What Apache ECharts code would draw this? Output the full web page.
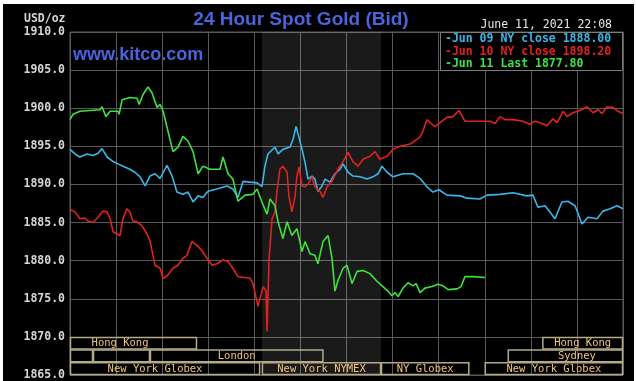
<!DOCTYPE html>
<html><head><meta charset="utf-8">
<script src="https://cdn.jsdelivr.net/npm/echarts@6/dist/echarts.min.js"></script>
<style>html,body{margin:0;padding:0;background:#fff;width:636px;height:381px;overflow:hidden}
#c{position:absolute;left:3px;top:4px;width:631px;height:377px;background:#000}</style>
</head><body><div id="c"></div><script>
// time in hours (EST, 0..24), value in USD/oz
const jun09 = [[0,1894.6],[0.22,1894.0],[0.43,1893.6],[0.74,1894.0],[1.00,1893.8],[1.22,1894.1],[1.39,1894.7],[1.61,1893.6],[1.87,1893.0],[2.08,1892.7],[2.30,1892.4],[2.60,1892.0],[2.82,1891.6],[3.04,1891.0],[3.26,1889.8],[3.47,1891.1],[3.69,1891.4],[3.91,1890.8],[4.21,1892.5],[4.43,1891.1],[4.64,1889.0],[4.90,1888.7],[5.12,1889.0],[5.34,1887.7],[5.56,1888.5],[5.77,1888.3],[5.99,1889.1],[6.38,1889.4],[6.81,1889.8],[7.07,1889.4],[7.29,1888.3],[7.51,1890.4],[7.81,1890.3],[8.12,1890.2],[8.33,1889.7],[8.46,1892.4],[8.59,1894.0],[8.90,1894.9],[9.03,1894.0],[9.24,1894.6],[9.55,1894.9],[9.68,1895.9],[9.81,1897.6],[9.90,1896.6],[10.07,1894.6],[10.20,1892.9],[10.33,1890.7],[10.50,1891.1],[10.63,1890.7],[10.76,1889.1],[10.94,1889.8],[11.07,1890.7],[11.28,1890.3],[11.50,1891.4],[11.72,1892.0],[11.85,1892.7],[12.07,1891.6],[12.28,1891.1],[12.59,1891.0],[12.89,1890.7],[13.15,1891.0],[13.37,1891.4],[13.54,1892.4],[13.76,1891.6],[14.02,1891.0],[14.45,1891.4],[14.89,1891.4],[15.19,1890.8],[15.49,1889.7],[15.75,1889.0],[16.01,1889.3],[16.36,1888.6],[16.93,1888.5],[17.23,1888.2],[17.79,1888.1],[18.10,1888.6],[18.66,1888.7],[19.23,1888.9],[19.83,1888.5],[20.09,1888.6],[20.31,1887.0],[20.62,1887.2],[21.05,1885.5],[21.35,1887.7],[21.61,1887.8],[21.92,1887.2],[22.22,1884.8],[22.48,1885.7],[22.87,1885.5],[23.13,1886.5],[23.44,1886.8],[23.74,1887.2],[24.00,1886.8]];
const jun10 = [[0,1886.7],[0.22,1886.4],[0.43,1885.5],[0.65,1885.6],[0.78,1885.2],[1.00,1885.0],[1.22,1885.7],[1.43,1886.5],[1.61,1886.4],[1.74,1885.5],[1.87,1883.8],[2.04,1883.5],[2.17,1883.3],[2.30,1885.5],[2.47,1886.8],[2.60,1886.4],[2.73,1885.2],[2.91,1885.1],[3.12,1884.6],[3.34,1883.5],[3.47,1882.6],[3.69,1879.4],[3.91,1879.0],[4.04,1877.7],[4.21,1878.0],[4.47,1879.0],[4.69,1879.4],[4.90,1880.3],[5.08,1880.7],[5.29,1882.5],[5.51,1882.0],[5.73,1881.3],[5.95,1880.3],[6.16,1879.4],[6.38,1879.6],[6.64,1880.1],[6.86,1879.9],[7.07,1879.0],[7.29,1877.9],[7.60,1877.8],[7.81,1877.7],[7.94,1877.0],[8.16,1874.0],[8.38,1876.6],[8.51,1876.0],[8.55,1870.7],[8.64,1880.3],[8.77,1885.5],[8.90,1886.4],[8.98,1889.0],[9.11,1892.0],[9.24,1892.4],[9.42,1891.6],[9.50,1888.5],[9.63,1886.4],[9.77,1888.5],[9.85,1891.1],[9.94,1892.3],[10.07,1889.8],[10.20,1889.7],[10.33,1890.0],[10.50,1891.0],[10.63,1889.7],[10.85,1889.1],[10.98,1888.3],[11.15,1889.7],[11.37,1890.4],[11.63,1892.0],[11.85,1893.0],[12.07,1894.2],[12.28,1893.0],[12.50,1892.4],[12.72,1893.3],[13.02,1893.7],[13.24,1894.3],[13.45,1893.3],[13.76,1893.7],[14.02,1894.6],[14.32,1895.0],[14.76,1895.3],[15.19,1896.2],[15.32,1897.0],[15.49,1898.5],[15.71,1897.9],[15.84,1897.6],[16.06,1898.1],[16.36,1898.8],[16.62,1898.9],[16.88,1899.7],[17.14,1898.3],[17.66,1898.3],[18.23,1898.3],[18.45,1898.0],[18.66,1898.9],[18.88,1898.5],[19.23,1898.5],[19.66,1898.3],[19.96,1897.9],[20.18,1898.3],[20.40,1898.1],[20.70,1897.7],[20.96,1898.6],[21.14,1898.1],[21.40,1899.6],[21.57,1898.9],[21.83,1899.4],[22.13,1899.7],[22.44,1900.2],[22.70,1899.4],[22.92,1899.8],[23.09,1899.3],[23.31,1900.2],[23.57,1900.1],[23.78,1899.6],[24.00,1899.3]];
const jun11 = [[0,1898.5],[0.13,1899.2],[0.43,1899.6],[1.30,1899.8],[1.39,1900.2],[1.56,1898.9],[1.74,1899.6],[2.08,1899.6],[2.13,1899.2],[2.26,1901.1],[2.60,1901.4],[2.91,1901.3],[3.00,1900.5],[3.17,1901.8],[3.39,1902.8],[3.56,1902.0],[3.78,1900.1],[3.91,1900.5],[4.04,1899.6],[4.47,1894.3],[4.69,1894.9],[4.90,1896.3],[5.12,1895.7],[5.34,1894.3],[5.56,1891.4],[5.77,1892.4],[6.08,1892.0],[6.51,1892.0],[6.64,1893.6],[6.86,1891.4],[7.07,1890.7],[7.29,1887.8],[7.60,1888.6],[7.94,1888.7],[8.12,1889.4],[8.33,1887.7],[8.55,1886.1],[8.68,1888.1],[8.90,1887.2],[9.03,1885.1],[9.24,1882.9],[9.42,1885.1],[9.63,1883.3],[9.85,1884.2],[10.07,1881.2],[10.20,1882.5],[10.42,1880.9],[10.63,1880.7],[10.76,1879.6],[10.98,1882.5],[11.20,1883.3],[11.37,1880.3],[11.50,1876.0],[11.63,1877.4],[11.85,1879.0],[12.02,1879.4],[12.24,1877.0],[12.46,1878.6],[12.72,1878.7],[13.02,1878.3],[13.32,1877.3],[13.58,1876.6],[13.80,1876.0],[13.97,1875.4],[14.11,1875.8],[14.24,1875.3],[14.45,1876.4],[14.67,1877.1],[14.89,1876.7],[15.02,1877.0],[15.19,1875.8],[15.41,1876.4],[15.71,1876.6],[15.97,1876.9],[16.19,1876.7],[16.41,1876.2],[16.80,1876.3],[16.97,1876.6],[17.14,1877.9],[17.49,1877.9],[18.01,1877.8]];

const legendLabels = ['-Jun 09 NY close 1888.00', '-Jun 10 NY close 1898.20', '-Jun 11 Last 1877.80'];
const nymexHours = [8.333, 13.5];
const sessionRow   = [0, 0, 1, 1, 1, 1, 2, 2, 2, 2];
const sessionStart = [-1.17, 20.5, 0, 1.0, 3.47, 19.0, -0.87, 8.33, 13.5, 18.0];
const sessionEnd   = [5.51, 24, 1.0, 3.47, 11.0, 25.0, 8.25, 13.5, 17.33, 24];
const sessionLabel = ['Hong Kong', 'Hong Kong', '', '', 'London', 'Sydney', 'New York Globex', 'New York NYMEX', 'NY Globex', 'New York Globex'];
const yTicks = {min: 1865, max: 1910, step: 5};
const xTicks = {min: 0, max: 24, step: 2};

const colors = ['#3cb6e8', '#e2221e', '#3ee23e'];
const MONO = '"DejaVu Sans Mono", monospace';
const gridColor = '#5a5a5a';

const chart = echarts.init(document.getElementById('c'), null, {renderer: 'canvas'});

const sessionData = sessionRow.map((r, i) => [sessionStart[i], sessionEnd[i], r]);

chart.setOption({
  animation: false,
  backgroundColor: 'transparent',
  grid: {left: 67, right: 11, top: 28, bottom: 4, show: true, borderColor: gridColor, borderWidth: 1},
  xAxis: {type: 'value', min: xTicks.min, max: xTicks.max, interval: xTicks.step,
    axisLabel: {show: false}, axisTick: {show: false}, axisLine: {show: false},
    splitLine: {show: true, lineStyle: {color: gridColor, width: 1}}},
  yAxis: {type: 'value', min: yTicks.min, max: yTicks.max, interval: yTicks.step,
    axisLabel: {formatter: v => v.toFixed(1), color: '#d6d6d6', fontFamily: MONO, fontWeight: 'bold', fontSize: 11.5, margin: 5},
    axisTick: {show: false}, axisLine: {show: false},
    splitLine: {show: true, lineStyle: {color: gridColor, width: 1}}},
  series: [
    {type: 'line', data: jun09, showSymbol: false, lineStyle: {color: colors[0], width: 1.6}, itemStyle: {color: colors[0]},
      markArea: {silent: true, itemStyle: {color: 'rgba(255,255,255,0.1)'}, data: [[{xAxis: nymexHours[0]}, {xAxis: nymexHours[1]}]]}},
    {type: 'line', data: jun10, showSymbol: false, lineStyle: {color: colors[1], width: 1.6}, itemStyle: {color: colors[1]}},
    {type: 'line', data: jun11, showSymbol: false, lineStyle: {color: colors[2], width: 1.6}, itemStyle: {color: colors[2]}},
    {type: 'custom', data: sessionData, silent: true, z: 1,
      renderItem: (params, api) => {
        const s = api.value(0), e = api.value(1), r = api.value(2);
        const top = 1870 - r * 5 / 3, bot = top - 5 / 3;
        const p0 = api.coord([Math.max(s, 0), top]);
        const p1 = api.coord([Math.min(e, 24), bot]);
        const c = api.coord([(s + e) / 2, (top + bot) / 2]);
        return {type: 'group', children: [
          {type: 'rect', shape: {x: p0[0] + 0.5, y: p0[1] + 0.5, width: p1[0] - p0[0] - 1, height: p1[1] - p0[1] - 1},
            style: {fill: null, stroke: '#b3ab88', lineWidth: 1.5}},
          {type: 'text', style: {text: sessionLabel[params.dataIndex], x: c[0], y: c[1] + 0.5, align: 'center', verticalAlign: 'middle',
            fill: '#f0c47e', font: '10.5px ' + MONO}}
        ]};
      }}
  ],
  graphic: [
    {type: 'text', left: 21, top: 9, style: {text: 'USD/oz', fill: '#d6d6d6', font: 'bold 11.5px ' + MONO}},
    {type: 'text', x: 298, y: 15.5, style: {text: '24 Hour Spot Gold (Bid)', fill: '#4b63dc', font: 'bold 19px "Liberation Sans", Arial, sans-serif', align: 'center', verticalAlign: 'middle'}},
    {type: 'text', x: 70, y: 51.5, style: {text: 'www.kitco.com', fill: '#4b63dc', font: 'bold 18px "Liberation Sans", Arial, sans-serif', align: 'left', verticalAlign: 'middle'}},
    {type: 'text', x: 609, y: 21.5, style: {text: 'June 11, 2021 22:08', fill: '#e6e6e6', font: '11.5px ' + MONO, align: 'right', verticalAlign: 'middle'}},
    {type: 'rect', shape: {x: 437.5, y: 28.5, width: 182, height: 38}, style: {fill: '#000', stroke: '#7c7c7c', lineWidth: 1}, z: 10},
    {type: 'text', x: 442, y: 35.5, z: 11, style: {text: legendLabels[0], fill: colors[0], font: 'bold 11.5px ' + MONO, verticalAlign: 'middle'}},
    {type: 'text', x: 442, y: 47.8, z: 11, style: {text: legendLabels[1], fill: colors[1], font: 'bold 11.5px ' + MONO, verticalAlign: 'middle'}},
    {type: 'text', x: 442, y: 60, z: 11, style: {text: legendLabels[2], fill: colors[2], font: 'bold 11.5px ' + MONO, verticalAlign: 'middle'}}
  ]
});
</script></body></html>
